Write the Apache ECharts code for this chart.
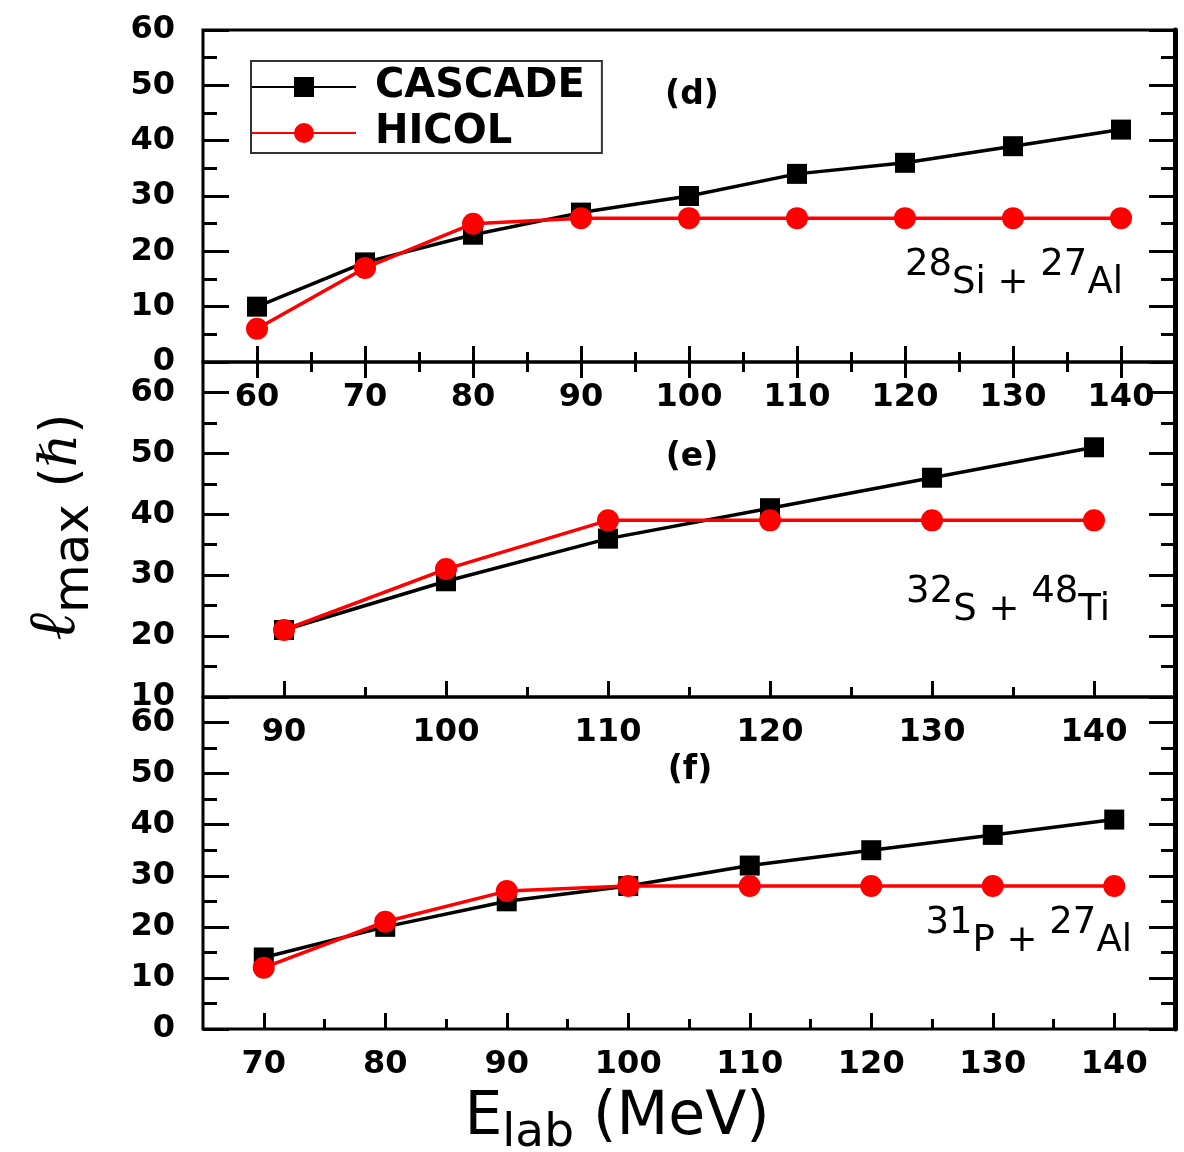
<!DOCTYPE html>
<html><head><meta charset="utf-8">
<script src="https://cdn.jsdelivr.net/npm/echarts@6/dist/echarts.min.js"></script>
<style>html,body{margin:0;padding:0;background:#fff}#c{width:1184px;height:1152px}</style>
</head><body><div id="c"></div>
<script>
const seriesNames = ['CASCADE', 'HICOL'];

// Panel (d): 28Si + 27Al
const dEnergy = [60, 70, 80, 90, 100, 110, 120, 130, 140];
const dCascade = [10, 18, 23, 27, 30, 34, 36, 39, 42];
const dHicol = [6, 17, 25, 26, 26, 26, 26, 26, 26];
// Panel (e): 32S + 48Ti
const eEnergy = [90, 100, 110, 120, 130, 140];
const eCascade = [21, 29, 36, 41, 46, 51];
const eHicol = [21, 31, 39, 39, 39, 39];
// Panel (f): 31P + 27Al
const fEnergy = [70, 80, 90, 100, 110, 120, 130, 140];
const fCascade = [14, 20, 25, 28, 32, 35, 38, 41];
const fHicol = [12, 21, 27, 28, 28, 28, 28, 28];

// Tick values
const dXMajor = [60, 70, 80, 90, 100, 110, 120, 130, 140];
const dXMinor = [65, 75, 85, 95, 105, 115, 125, 135];
const eXMajor = [90, 100, 110, 120, 130, 140];
const eXMinor = [95, 105, 115, 125, 135];
const fXMajor = [70, 80, 90, 100, 110, 120, 130, 140];
const fXMinor = [75, 85, 95, 105, 115, 125, 135];
const dYMajor = [0, 10, 20, 30, 40, 50, 60];
const dYMinor = [5, 15, 25, 35, 45, 55];
const eYMajor = [10, 20, 30, 40, 50, 60];
const eYMinor = [15, 25, 35, 45, 55];
const fYMajor = [0, 10, 20, 30, 40, 50, 60];
const fYMinor = [5, 15, 25, 35, 45, 55];

const panelLabels = ['(d)', '(e)', '(f)'];
const reactionLabels = ['{n|28}{e|Si + }{n|27}{e|Al}', '{n|32}{e|S + }{n|48}{e|Ti}', '{n|31}{e|P + }{n|27}{e|Al}'];
const xTitle = '{a|E}{s|lab}{a| (MeV)}';
const yTitle = '{l|ℓ}{m|max}{p| (}{h|ℏ}{p|)}';

const FONT = 'DejaVu Sans';
const panels = [
  { top: 30, height: 332, xMin: 55, xMax: 145, yMin: 0, yMax: 60, xMaj: dXMajor, xMin2: dXMinor, yMaj: dYMajor, yMin2: dYMinor, topTicks: true, x: dEnergy, c: dCascade, h: dHicol },
  { top: 362, height: 335, xMin: 85, xMax: 145, yMin: 10, yMax: 65, xMaj: eXMajor, xMin2: eXMinor, yMaj: eYMajor, yMin2: eYMinor, topTicks: false, x: eEnergy, c: eCascade, h: eHicol },
  { top: 697, height: 332, xMin: 65, xMax: 145, yMin: 0, yMax: 65, xMaj: fXMajor, xMin2: fXMinor, yMaj: fYMajor, yMin2: fYMinor, topTicks: false, x: fEnergy, c: fCascade, h: fHicol }
];

const labelStyle = { color: '#000', fontSize: 32, fontWeight: 'bold', fontFamily: FONT };

function xAx(g, p, pos, ticks, len, labels) {
  return {
    type: 'value', gridIndex: g, min: p.xMin, max: p.xMax, position: pos,
    axisLine: { show: false }, splitLine: { show: false },
    axisTick: { show: true, inside: true, length: len, customValues: ticks, lineStyle: { color: '#000', width: 3 } },
    axisLabel: labels ? Object.assign({ show: true, customValues: ticks, margin: 20 }, labelStyle) : { show: false }
  };
}
function yAx(g, p, pos, ticks, len, labels, lineW) {
  return {
    type: 'value', gridIndex: g, min: p.yMin, max: p.yMax, position: pos,
    axisLine: lineW ? { show: true, lineStyle: { color: '#000', width: lineW } } : { show: false },
    splitLine: { show: false },
    axisTick: { show: true, inside: true, length: len, customValues: ticks, lineStyle: { color: '#000', width: 3 } },
    axisLabel: labels ? Object.assign({ show: true, customValues: ticks, margin: 28 }, labelStyle) : { show: false }
  };
}

const grids = [], xAxes = [], yAxes = [], series = [];
panels.forEach((p, g) => {
  grids.push({ left: 203, right: 9, top: p.top, height: p.height, show: true, borderColor: '#000', borderWidth: 3, backgroundColor: 'transparent' });
  const xi = xAxes.length;
  xAxes.push(xAx(g, p, 'bottom', p.xMaj, 16, true));
  xAxes.push(xAx(g, p, 'bottom', p.xMin2, 10, false));
  if (p.topTicks) {
    xAxes.push(xAx(g, p, 'top', p.xMaj, 16, false));
    xAxes.push(xAx(g, p, 'top', p.xMin2, 10, false));
  }
  const yi = yAxes.length;
  yAxes.push(yAx(g, p, 'left', p.yMaj, 26, true, 0));
  yAxes.push(yAx(g, p, 'left', p.yMin2, 14, false, 0));
  yAxes.push(yAx(g, p, 'right', p.yMaj, 26, false, 5));
  yAxes.push(yAx(g, p, 'right', p.yMin2, 14, false, 0));
  series.push({
    name: seriesNames[0], type: 'line', xAxisIndex: xi, yAxisIndex: yi,
    data: p.x.map((v, k) => [v, p.c[k]]),
    symbol: 'rect', symbolSize: 20, itemStyle: { color: '#000' },
    lineStyle: { color: '#000', width: 3.5 }, z: 3
  });
  series.push({
    name: seriesNames[1], type: 'line', xAxisIndex: xi, yAxisIndex: yi,
    data: p.x.map((v, k) => [v, p.h[k]]),
    symbol: 'circle', symbolSize: 22, itemStyle: { color: '#ff0000' },
    lineStyle: { color: '#ff0000', width: 3.5 }, z: 4
  });
});

const graphics = [];
const panelLabelPos = [[692, 95], [692, 457], [690, 770]];
panelLabels.forEach((t, i) => {
  graphics.push({ type: 'text', x: panelLabelPos[i][0], y: panelLabelPos[i][1], style: { text: t, align: 'center', verticalAlign: 'middle', fill: '#000', fontSize: 33, fontWeight: 'bold', fontFamily: FONT } });
});
const reactPos = [[1123, 256], [1110, 583], [1132, 914]];
reactionLabels.forEach((t, i) => {
  graphics.push({ type: 'text', x: reactPos[i][0], y: reactPos[i][1], style: {
    text: t, align: 'right', verticalAlign: 'top', fill: '#000',
    rich: {
      n: { fontSize: 37, lineHeight: 37, padding: [0, 0, 18, 0], fontFamily: FONT, fill: '#000' },
      e: { fontSize: 37, lineHeight: 37, padding: [18, 0, 0, 0], fontFamily: FONT, fill: '#000' }
    } } });
});
graphics.push({ type: 'text', x: 617, y: 1126, style: {
  text: xTitle, align: 'center', verticalAlign: 'middle', fill: '#000',
  rich: {
    a: { fontSize: 60, lineHeight: 60, padding: [0, 0, 15, 0], fontFamily: FONT, fill: '#000' },
    s: { fontSize: 47, lineHeight: 47, padding: [22, 0, 6, 0], fontFamily: FONT, fill: '#000' }
  } } });
graphics.push({ type: 'text', x: 64, y: 527, rotation: Math.PI / 2, style: {
  text: yTitle, align: 'center', verticalAlign: 'middle', fill: '#000',
  rich: {
    l: { fontSize: 66, lineHeight: 66, padding: [0, 0, 14, 0], fontFamily: 'DejaVu Serif', fontStyle: 'italic', fill: '#000' },
    m: { fontSize: 50, lineHeight: 50, padding: [26, 0, 4, 0], fontFamily: FONT, fill: '#000' },
    p: { fontSize: 52, lineHeight: 52, padding: [12, 0, 16, 0], fontFamily: FONT, fill: '#000' },
    h: { fontSize: 52, lineHeight: 52, padding: [12, 0, 16, 0], fontFamily: 'DejaVu Serif', fontStyle: 'italic', fill: '#000' }
  } } });

const chart = echarts.init(document.getElementById('c'), null, { renderer: 'canvas' });
chart.setOption({
  animation: false,
  backgroundColor: '#fff',
  grid: grids,
  xAxis: xAxes,
  yAxis: yAxes,
  legend: {
    data: seriesNames, orient: 'vertical', left: 251, top: 61,
    borderColor: '#333', borderWidth: 2, padding: [6, 17, 0, 0],
    itemWidth: 104, itemHeight: 25, itemGap: 6,
    formatter: ' {name}',
    textStyle: { fontSize: 40, fontWeight: 'bold', fontFamily: FONT, color: '#000', lineHeight: 37 }
  },
  series: series,
  graphic: graphics
});
</script></body></html>
